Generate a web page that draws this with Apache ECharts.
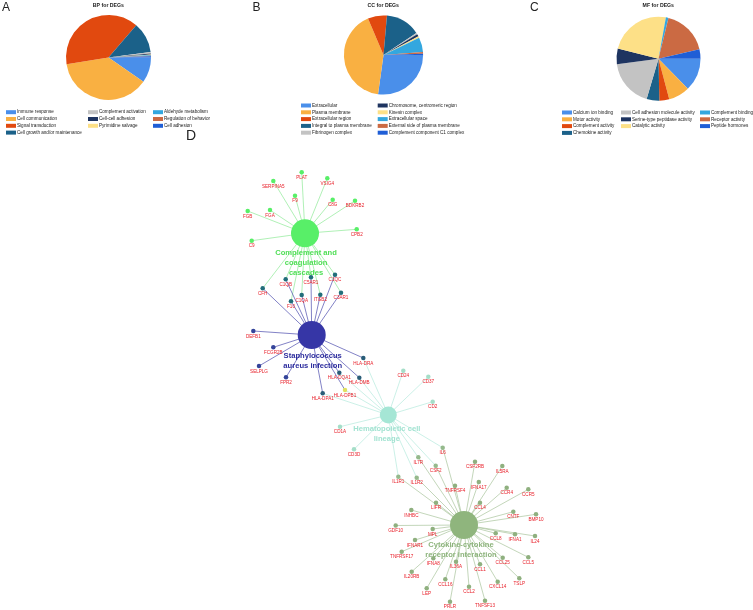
<!DOCTYPE html>
<html>
<head>
<meta charset="utf-8">
<script src="https://cdn.jsdelivr.net/npm/echarts@6/dist/echarts.min.js"></script>
<style>
html,body{margin:0;padding:0;background:#fff;}
#chart{width:753px;height:610px;}
</style>
</head>
<body>
<div id="chart"></div>
<script>
// ---------- Pie data ----------
const pieColors = ['#4a8fea','#f9b042','#e1490f','#1b6189','#c3c3c3','#1e3460','#fde087','#33a7df','#cb6a43','#1f5ed6'];

const bpTitle = 'BP for DEGs';
const bpNames = ['Immune response','Cell communication','Signal transduction','Cell growth and/or maintenance',
  'Complement activation','Cell-cell adhesion','Pyrimidine salvage',
  'Aldehyde metabolism','Regulation of behavior','Cell adhesion'];
const bpValues = [9.7, 37.8, 38.9, 11.6, 0.6, 0.4, 0.2, 0.2, 0.2, 0.5];

const ccTitle = 'CC for DEGs';
const ccNames = ['Extracellular','Plasma membrane','Extracellular region','Integral to plasma membrane','Fibrinogen complex',
  'Chromosome, centromeric region','Kinesin complex','Extracellular space','External side of plasma membrane','Complement component C1 complex'];
const ccValues = [27.2, 41.4, 7.8, 14.2, 0.6, 1.0, 0.6, 6.0, 0.7, 0.5];

const mfTitle = 'MF for DEGs';
const mfNames = ['Calcium ion binding','Motor activity','Complement activity','Chemokine activity',
  'Cell adhesion molecule activity','Serine-type peptidase activity','Catalytic activity',
  'Complement binding','Receptor activity','Peptide hormones'];
const mfValues = [12.7, 8.2, 3.8, 4.9, 18.3, 6.1, 23.9, 1.0, 17.6, 3.6];

// ---------- Network data ----------
const hubNames = ['Complement and coagulation cascades','Staphylococcus aureus infection','Hematopoietic cell lineage','Cytokine-cytokine receptor interaction'];
const hubLabels = ['Complement and\ncoagulation\ncascades','Staphylococcus\naureus infection','Hematopoietic cell\nlineage','Cytokine-cytokine\nreceptor interaction'];
const hubX = [305, 311.7, 388.3, 464];
const hubY = [233.3, 335, 415, 525];

const geneNames = ['PLAT','SERPINA5','VSIG4','F9','C8G','BDKRB2','FGB','FGA','CPB2','C9',
  'C1QB','C5AR1','C1QC','CFH','F10','C1QA','ITGB2','C3AR1',
  'DEFB1','FCGR2B','SELPLG','FPR2',
  'HLA-DRA','HLA-DQA1','HLA-DMB','HLA-DPB1','HLA-DPA1',
  'CD24','CD37','CD2','CD1A','CD3D',
  'IL6','IL7R','CSF2','IL1R1','IL1R2',
  'CSF2RB','IL5RA','TNFRSF4','IFNA17','CCR4','CCR5','CCL4','LIFR','INHBC','CNTF','BMP10',
  'GDF10','MPL','IFNAR1','TNFRSF17','IFNA8','IL36A','IL20RB','CCL16','CCL1','CCL8','IFNA1','IL24',
  'CCL25','CCL5','CXCL14','TSLP','CCL2','LEP','PRLR','TNFSF13'];
const geneX = [301.7,273.3,327.3,295,332.7,355,247.7,270,356.7,251.7,
  285.7,311,335,262.7,291,301.7,320.3,341,
  253.3,273.3,259,286,
  363.3,339.3,359.3,345,322.7,
  403.3,428.3,432.7,340,354,
  442.7,418.3,435.7,398.3,416.7,
  475,502.3,455,478.8,506.7,528.3,480,436,411.3,513.3,536,
  395.7,432.7,415,401.7,433.3,456,411.7,445.3,480,495.7,515,535,
  502.7,528.3,497.7,519.3,469,426.7,450,485];
const geneY = [172.3,181,178.3,195.7,199.7,200.7,211,210,229.3,240.7,
  279.3,277.3,274.7,288.3,301.3,295,294.7,292.7,
  331,347.3,366,377.3,
  358,372.7,377.7,390,393.3,
  370.7,376.7,401.7,426.7,449.3,
  447.7,457.3,465.7,476.7,477.7,
  461.7,466,485.7,482,487.7,489.3,502.7,502.7,510,511.7,514.3,
  525.5,529,540,551.7,558.3,561.7,571.7,579.3,564.3,533.3,534.3,536,
  557.7,557.3,581.7,578.3,586.7,588.3,601.7,600.7];

const compMembers = ['PLAT','SERPINA5','VSIG4','F9','C8G','BDKRB2','FGB','FGA','CPB2','C9',
  'C1QB','C5AR1','C1QC','CFH','F10','C1QA','ITGB2','C3AR1'];
const staphMembers = ['C1QB','C5AR1','C1QC','CFH','F10','C1QA','ITGB2','C3AR1',
  'DEFB1','FCGR2B','SELPLG','FPR2','HLA-DRA','HLA-DQA1','HLA-DMB','HLA-DPB1','HLA-DPA1'];
const hemaMembers = ['HLA-DRA','HLA-DQA1','HLA-DMB','HLA-DPB1','HLA-DPA1',
  'CD24','CD37','CD2','CD1A','CD3D','IL6','IL7R','CSF2','IL1R1','IL1R2'];
const cytoMembers = ['IL6','IL7R','CSF2','IL1R1','IL1R2',
  'CSF2RB','IL5RA','TNFRSF4','IFNA17','CCR4','CCR5','CCL4','LIFR','INHBC','CNTF','BMP10',
  'GDF10','MPL','IFNAR1','TNFRSF17','IFNA8','IL36A','IL20RB','CCL16','CCL1','CCL8','IFNA1','IL24',
  'CCL25','CCL5','CXCL14','TSLP','CCL2','LEP','PRLR','TNFSF13'];

// ---------- styles ----------
const hubColors = ['#58ef68','#3636a6','#a5e6d5','#8fb57d'];
const hubLabelColors = ['#4fde55','#2d2d9e','#a3e3d2','#8db47c'];
const edgeColors = ['#8eea96','#4c4cae','#b5e9dc','#a9c49c'];
const memberLists = [compMembers, staphMembers, hemaMembers, cytoMembers];

function geneColor(name){
  if (name === 'HLA-DPB1') return '#e0e060';
  const inC = compMembers.includes(name), inS = staphMembers.includes(name),
        inH = hemaMembers.includes(name), inY = cytoMembers.includes(name);
  if (inC && inS) return '#226e7a';
  if (inS && inH) return '#2a5d78';
  if (inH && inY) return '#95b98c';
  if (inC) return hubColors[0];
  if (inS) return '#34449a';
  if (inH) return '#a5dec8';
  return '#8fb07f';
}

const nodes = [];
hubNames.forEach((n,i)=>{
  nodes.push({
    name:n, value:[hubX[i], hubY[i]],
    symbolSize: i===2 ? 17 : 28,
    itemStyle:{color:hubColors[i]},
    label:{show:true, position:'bottom', distance: i===1?2:0.5,
      formatter: hubLabels[i], fontSize:7.6, fontWeight:'bold', lineHeight:10,
      fontFamily:'Liberation Sans, Arial, sans-serif',
      color:hubLabelColors[i], offset: i===3?[-3,0]:(i===2?[-1.5,0]:[1,0])}
  });
});
geneNames.forEach((n,i)=>{
  nodes.push({
    name:n, value:[geneX[i], geneY[i]], symbolSize:4.5,
    itemStyle:{color:geneColor(n)},
    label:{show:true, position:'bottom', distance:0.7, fontSize:4.6, lineHeight:4.8,
      fontFamily:'Liberation Sans, Arial, sans-serif', color:'#e8202a'}
  });
});
const links = [];
memberLists.forEach((list,h)=>{
  list.forEach(g=>{
    links.push({source:hubNames[h], target:g, lineStyle:{color:edgeColors[h], width:0.7, opacity:1}});
  });
});

// ---------- legends ----------
function legendCol(names, left, top){
  return {
    data: names, orient:'vertical', left:left, top:top,
    itemWidth:10, itemHeight:4, itemGap:1.8, icon:'rect', padding:0,
    selectedMode:false,
    textStyle:{fontSize:4.6, lineHeight:4.6, color:'#222', fontFamily:'Liberation Sans, Arial, sans-serif', padding:[0,0,0,-4]}
  };
}
const legends = [
  legendCol(bpNames.slice(0,4), 6, 109.7),
  legendCol(bpNames.slice(4,7), 88, 109.7),
  legendCol(bpNames.slice(7,10), 153, 109.7),
  legendCol(ccNames.slice(0,5), 301, 103),
  legendCol(ccNames.slice(5,10), 377.7, 103),
  legendCol(mfNames.slice(0,4), 562, 110),
  legendCol(mfNames.slice(4,7), 621, 110),
  legendCol(mfNames.slice(7,10), 700, 110)
];

function pieSeries(names, values, center, r){
  return {
    type:'pie', center:center, radius:r, startAngle:0, clockwise:true,
    label:{show:false}, labelLine:{show:false}, emphasis:{disabled:true},
    itemStyle:{borderWidth:0},
    data: names.map((n,i)=>({name:n, value:values[i]}))
  };
}

function titleAt(text, x, y, size, bold){
  return {text:text, left:x, top:y, padding:0, textAlign: bold?'center':'left',
    textStyle:{fontSize:size, fontWeight: bold?'bold':'normal', color:'#222',
      fontFamily:'Liberation Sans, Arial, sans-serif'}};
}

const chart = echarts.init(document.getElementById('chart'), null, {renderer:'canvas'});
chart.setOption({
  animation:false,
  color: pieColors,
  title:[
    titleAt('A', 2, 1.5, 12, false),
    titleAt('B', 252.5, 1.5, 12, false),
    titleAt('C', 530, 1.5, 12, false),
    titleAt('D', 186, 129, 14, false),
    titleAt(bpTitle, 108.4, 3, 5.2, true),
    titleAt(ccTitle, 383.3, 3, 5.2, true),
    titleAt(mfTitle, 658.3, 3, 5.2, true)
  ],
  legend: legends,
  grid:{left:0, right:0, top:0, bottom:0},
  xAxis:{type:'value', min:0, max:753, show:false},
  yAxis:{type:'value', min:0, max:610, inverse:true, show:false},
  series:[
    pieSeries(bpNames, bpValues, [108.5, 57.5], 42.5),
    pieSeries(ccNames, ccValues, [383.5, 55], 39.6),
    pieSeries(mfNames, mfValues, [658.5, 58.7], 42),
    {
      type:'graph', coordinateSystem:'cartesian2d', symbol:'circle',
      data:nodes, links:links, roam:false, emphasis:{disabled:true},
      lineStyle:{width:0.7, opacity:1}, z:3
    }
  ]
});
</script>
</body>
</html>
